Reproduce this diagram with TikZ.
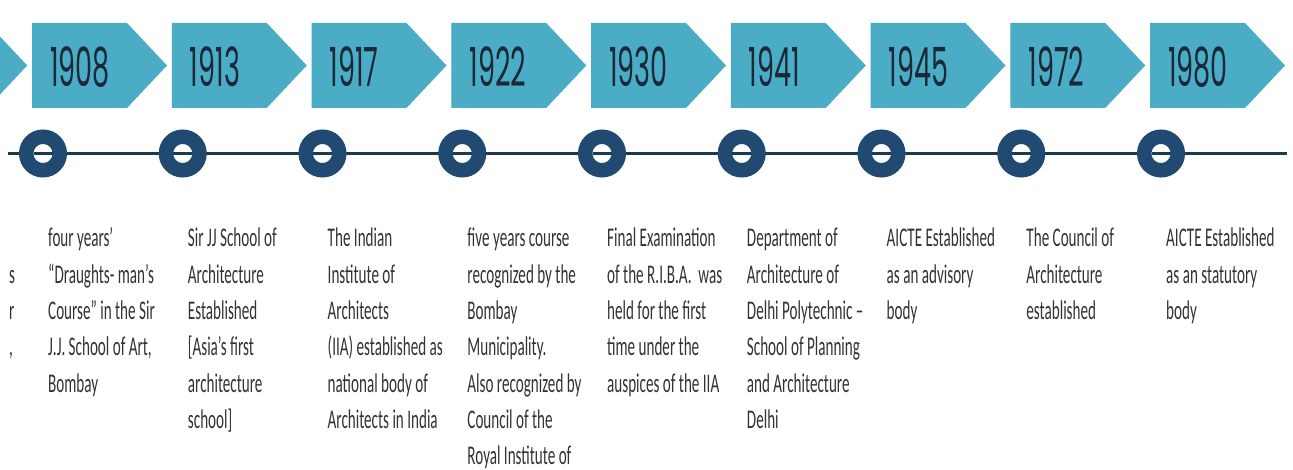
\documentclass[tikz,border=0pt]{standalone}
\usepackage{fontspec}
\newfontfamily\bodyfont[FakeStretch=0.56]{Carlito}
\newfontfamily\yearfont[FakeStretch=0.5]{Poppins}
\definecolor{boxblue}{HTML}{4BACC6}
\definecolor{navy}{HTML}{204A72}
\definecolor{tlcolor}{HTML}{1C3A4E}
\definecolor{yeartext}{HTML}{1B2838}
\definecolor{bodytext}{HTML}{333333}
\tikzset{
  arrowbox/.style={fill=boxblue},
  ring/.style={circle, draw=navy, line width=14.5pt, fill=white, minimum size=33.5pt, inner sep=0pt},
  timeline/.style={draw=tlcolor, line width=3.5pt},
  yearlabel/.style={font=\yearfont\fontsize{54}{54}\selectfont, text=yeartext, anchor=base west, inner sep=0pt},
  desc/.style={anchor=base west, inner sep=0pt, text=bodytext},
}
\newcommand{\desctext}[1]{\parbox[t]{140pt}{\bodyfont\fontsize{27}{36.3}\selectfont\raggedright #1}}
\begin{document}
\begin{tikzpicture}[x=1pt,y=-1pt]
\useasboundingbox (0,0) rectangle (1293,470);
\clip (0,0) rectangle (1293,470);
\fill[white] (0,0) rectangle (1293,470);
% partial box at the left edge
\pgfmathsetmacro\Lp{32-139.75}
\fill[arrowbox] (\Lp,23) -- (\Lp+95,23) -- (\Lp+135,65.5) -- (\Lp+95,108) -- (\Lp,108) -- cycle;
\node[desc] (pa) at (9,283.3) {\bodyfont\fontsize{27}{36.3}\selectfont s};
\node[desc] (pb) at (9,319.6) {\bodyfont\fontsize{27}{36.3}\selectfont r};
\node[desc] (pc) at (9,355.9) {\bodyfont\fontsize{27}{36.3}\selectfont ,};
\foreach \i/\yr/\txt in {
  0/1908/{four years’\\“Draughts- man’s\\Course” in the Sir\\J.J. School of Art,\\Bombay},
  1/1913/{Sir JJ School of\\Architecture\\Established\\{}[Asia’s first\\architecture\\school]},
  2/1917/{The Indian\\Institute of\\Architects\\(IIA) established as\\national body of\\Architects in India},
  3/1922/{five years course\\recognized by the\\Bombay\\Municipality.\\Also recognized by\\Council of the\\Royal Institute of},
  4/1930/{Final Examination\\of the R.I.B.A.~ was\\held for the first\\time under the\\auspices of the IIA},
  5/1941/{Department of\\Architecture of\\Delhi Polytechnic –\\School of Planning\\and Architecture\\Delhi},
  6/1945/{AICTE Established\\as an advisory\\body},
  7/1972/{The Council of\\Architecture\\established},
  8/1980/{AICTE Established\\as an statutory\\body}} {
  \pgfmathsetmacro\L{32+139.75*\i}
  \fill[arrowbox] (\L,23) -- (\L+95,23) -- (\L+135,65.5) -- (\L+95,108) -- (\L,108) -- cycle;
  \node[yearlabel] (y\i) at (\L+18,87) {\yr};
  \node[desc] (d\i) at (\L+16,247) {\desctext{\txt}};
}
\coordinate (tlstart) at (8,153.5);
\coordinate (tlend) at (1287,153.5);
\draw[timeline] (tlstart) -- (tlend);
\foreach \i in {0,...,8} {
  \pgfmathsetmacro\L{32+139.75*\i}
  \node[ring] (c\i) at (\L+11,153.5) {};
}
\foreach \i in {0,...,8} {
  \draw[timeline] (c\i.center) ++(-9.5,0) -- ++(19,0);
}
\end{tikzpicture}
\end{document}
